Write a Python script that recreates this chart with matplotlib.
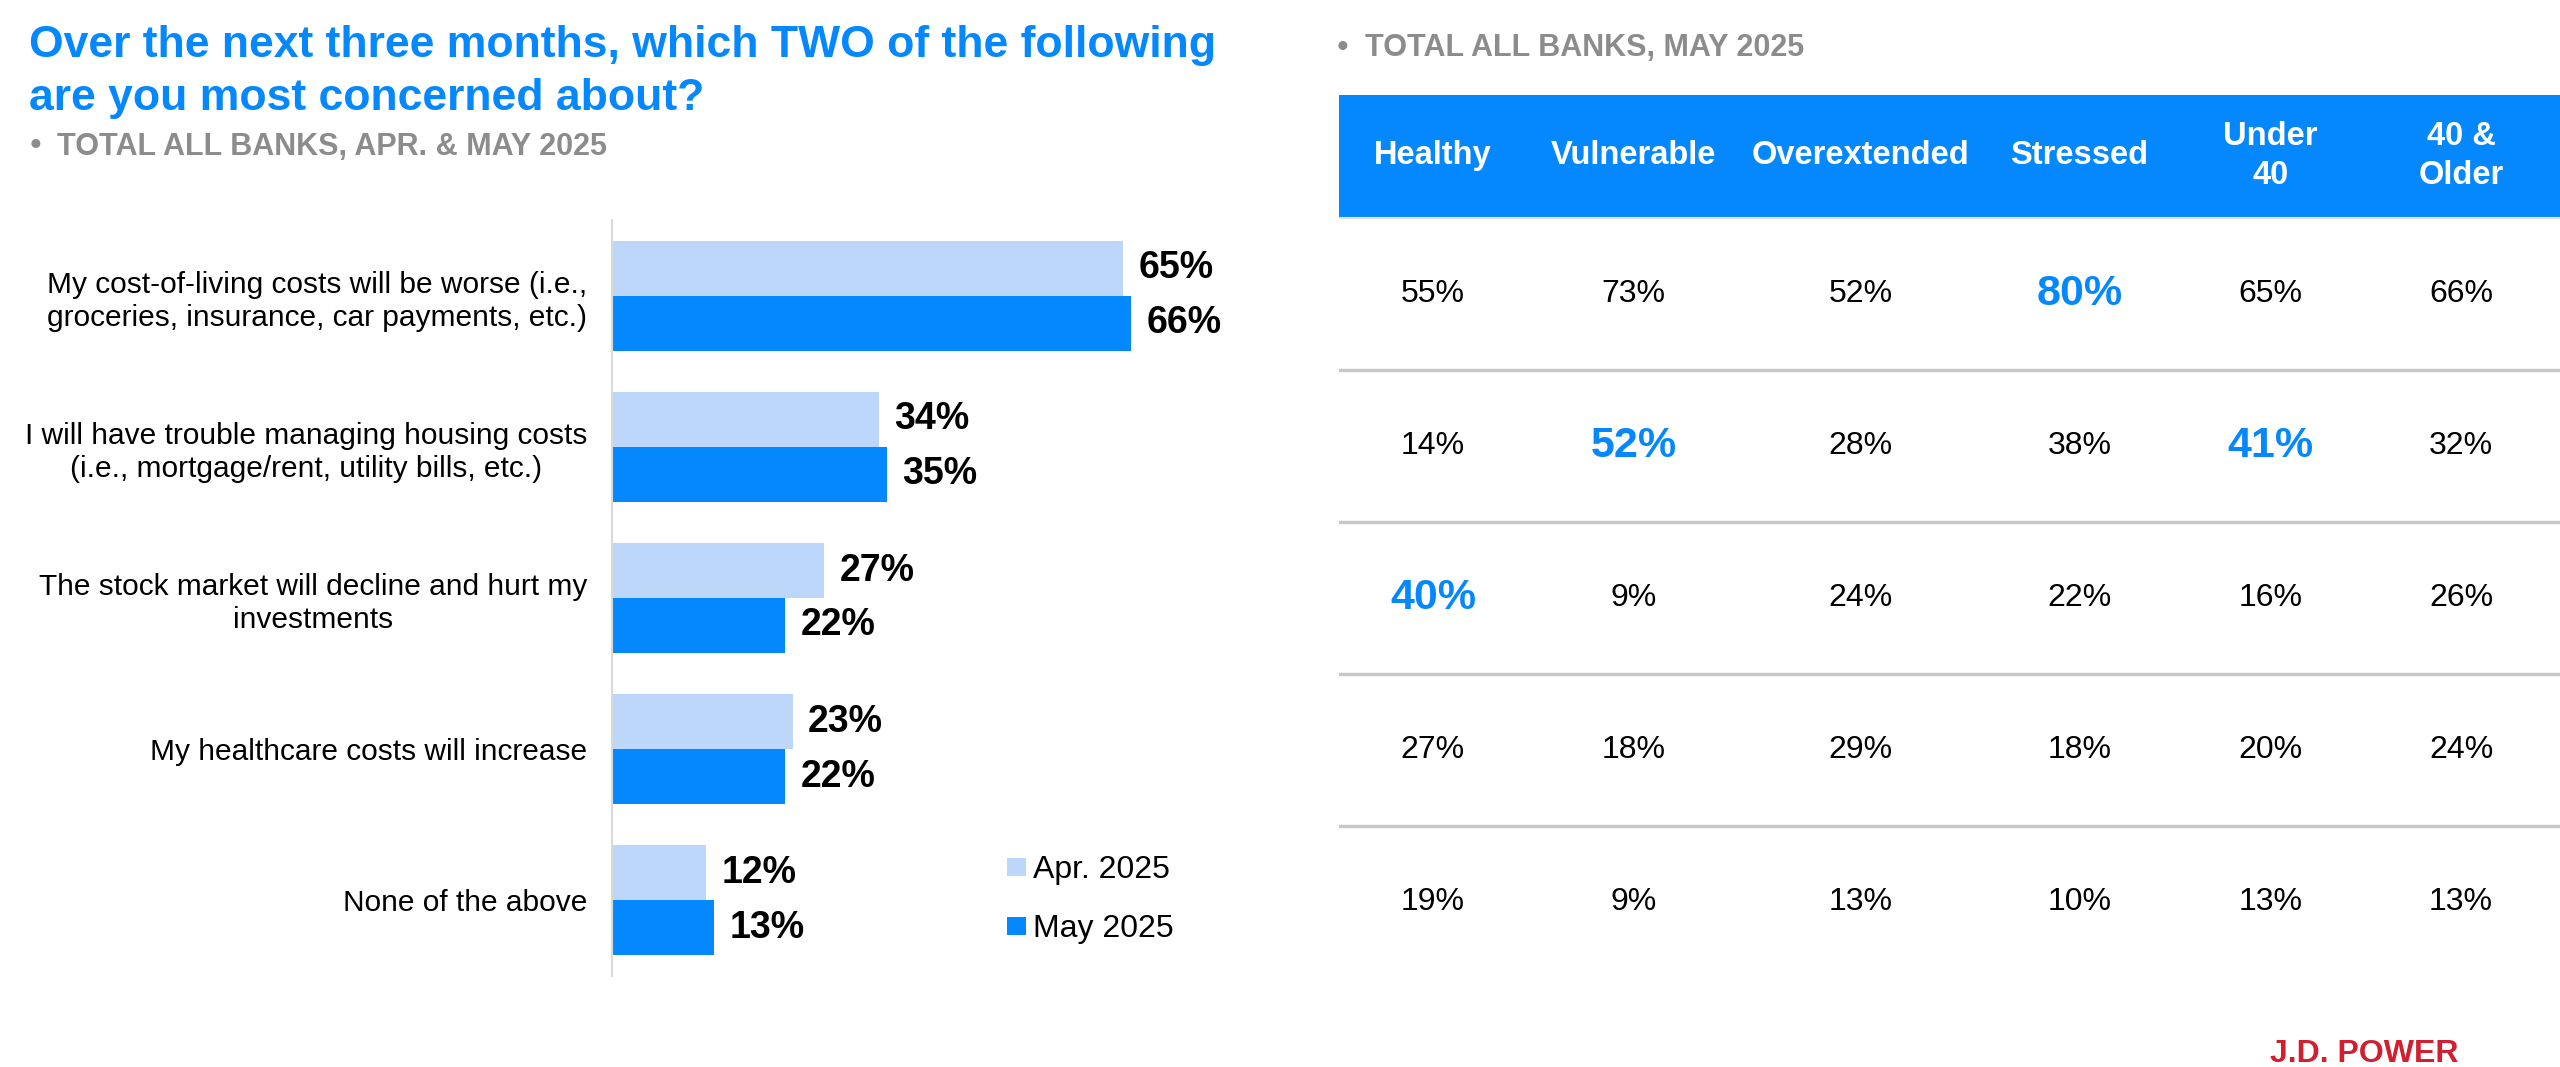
import numpy as np
import matplotlib
matplotlib.use('Agg')
import matplotlib.pyplot as plt

plt.rcParams['font.family'] = ['Liberation Sans', 'DejaVu Sans']

# --- left chart data ---
concerns = ['My cost-of-living costs will be worse (i.e.,\ngroceries, insurance, car payments, etc.)',
            'I will have trouble managing housing costs\n(i.e., mortgage/rent, utility bills, etc.)',
            'The stock market will decline and hurt my\ninvestments',
            'My healthcare costs will increase',
            'None of the above']
apr_2025 = [65, 34, 27, 23, 12]
may_2025 = [66, 35, 22, 22, 13]
series_names = ['Apr. 2025', 'May 2025']

# --- right table data (May 2025) ---
segments = ['Healthy', 'Vulnerable', 'Overextended', 'Stressed', 'Under\n40', '40 &\nOlder']
healthy = [55, 14, 40, 27, 19]
vulnerable = [73, 52, 9, 18, 9]
overextended = [52, 28, 24, 29, 13]
stressed = [80, 38, 22, 18, 10]
under_40 = [65, 41, 16, 20, 13]
older_40 = [66, 32, 26, 24, 13]
# highlighted cells (row, column)
highlights = [(0, 3), (1, 1), (1, 4), (2, 0)]

BLUE = '#0588FE'
LIGHT = '#BDD7FA'
GRAY = '#8C8C8C'

W, H = 2560, 1067
fig = plt.figure(figsize=(W / 100, H / 100), dpi=100)


def px_box(x0, y_top, x1, y_bot):
    return [x0 / W, 1 - y_bot / H, (x1 - x0) / W, (y_bot - y_top) / H]


# bar chart
ax = fig.add_axes(px_box(612, 220, 1300, 976))
y = np.arange(len(concerns))
h = 0.364
b1 = ax.barh(y - h / 2, apr_2025, height=h, color=LIGHT, label=series_names[0])
b2 = ax.barh(y + h / 2, may_2025, height=h, color=BLUE, label=series_names[1])
ax.set_xlim(0, 87.5)
ax.set_ylim(len(concerns) - 0.497, -0.503)
for s in ['top', 'right', 'bottom']:
    ax.spines[s].set_visible(False)
ax.spines['left'].set_color('#D9D9D9')
ax.spines['left'].set_linewidth(1.5)
ax.set_xticks([])
ax.set_yticks(y)
ax.set_yticklabels(concerns, fontsize=21.5, linespacing=1.25)
for lbl in ax.get_yticklabels():
    lbl.set_multialignment('center')
ax.tick_params(axis='y', length=0, pad=18)

for vals, off in [(apr_2025, -h / 2), (may_2025, h / 2)]:
    for i, v in enumerate(vals):
        ax.annotate(f'{v}%', (v, i + off), xytext=(11, 0), textcoords='offset points',
                    va='center', ha='left', fontsize=27, fontweight='bold')

fig.legend(handles=[b1, b2], labels=series_names, loc='upper left',
           bbox_to_anchor=(1007 / W, 1 - 855 / H), frameon=False, fontsize=23,
           handlelength=0.6, handleheight=0.5, handletextpad=0.2,
           labelspacing=0.92, borderpad=0, borderaxespad=0)

# table
col_widths = np.array([188, 214, 240, 198, 184, 198])
centers = np.cumsum(col_widths) - col_widths / 2
columns = [healthy, vulnerable, overextended, stressed, under_40, older_40]
n_rows = len(healthy)

tax = fig.add_axes(px_box(1339, 95, 2560, 978))
tax.set_xlim(0, col_widths.sum())
tax.set_ylim(n_rows, -0.81)
tax.axis('off')
tax.axhspan(-0.81, 0, color=BLUE, lw=0)
tax.axhline(0, color='#E0E0E0', lw=1.5)
for r in range(1, n_rows):
    tax.axhline(r, color='#C8C8C8', lw=2.5)

for c, seg in enumerate(segments):
    tax.text(centers[c], -0.41, seg, ha='center', va='center', color='white',
             fontsize=23.5, fontweight='bold', linespacing=1.32)

for c, col in enumerate(columns):
    for r, v in enumerate(col):
        if (r, c) in highlights:
            tax.text(centers[c], r + 0.5, f'{v}%', ha='center', va='center',
                     color=BLUE, fontsize=31, fontweight='bold')
        else:
            tax.text(centers[c], r + 0.5, f'{v}%', ha='center', va='center',
                     color='black', fontsize=23)

# titles
fig.text(29 / W, 1 - 72 / H, 'Over the next three months, which TWO of the following\nare you most concerned about?',
         ha='left', va='center', fontsize=32, fontweight='bold', color=BLUE, linespacing=1.36)
fig.text(30 / W, 1 - 147 / H, '•', ha='left', va='center', fontsize=24, color=GRAY)
fig.text(57 / W, 1 - 147 / H, 'TOTAL ALL BANKS, APR. & MAY 2025', ha='left', va='center',
         fontsize=22, fontweight='bold', color=GRAY)
fig.text(1337 / W, 1 - 48 / H, '•', ha='left', va='center', fontsize=24, color=GRAY)
fig.text(1365 / W, 1 - 48 / H, 'TOTAL ALL BANKS, MAY 2025', ha='left', va='center',
         fontsize=22, fontweight='bold', color=GRAY)

fig.text(2364 / W, 1 - 1054 / H, 'J.D. POWER', ha='center', va='center',
         fontsize=23, fontweight='bold', color='#D11F2F')

fig.savefig('out.png', dpi=100)
